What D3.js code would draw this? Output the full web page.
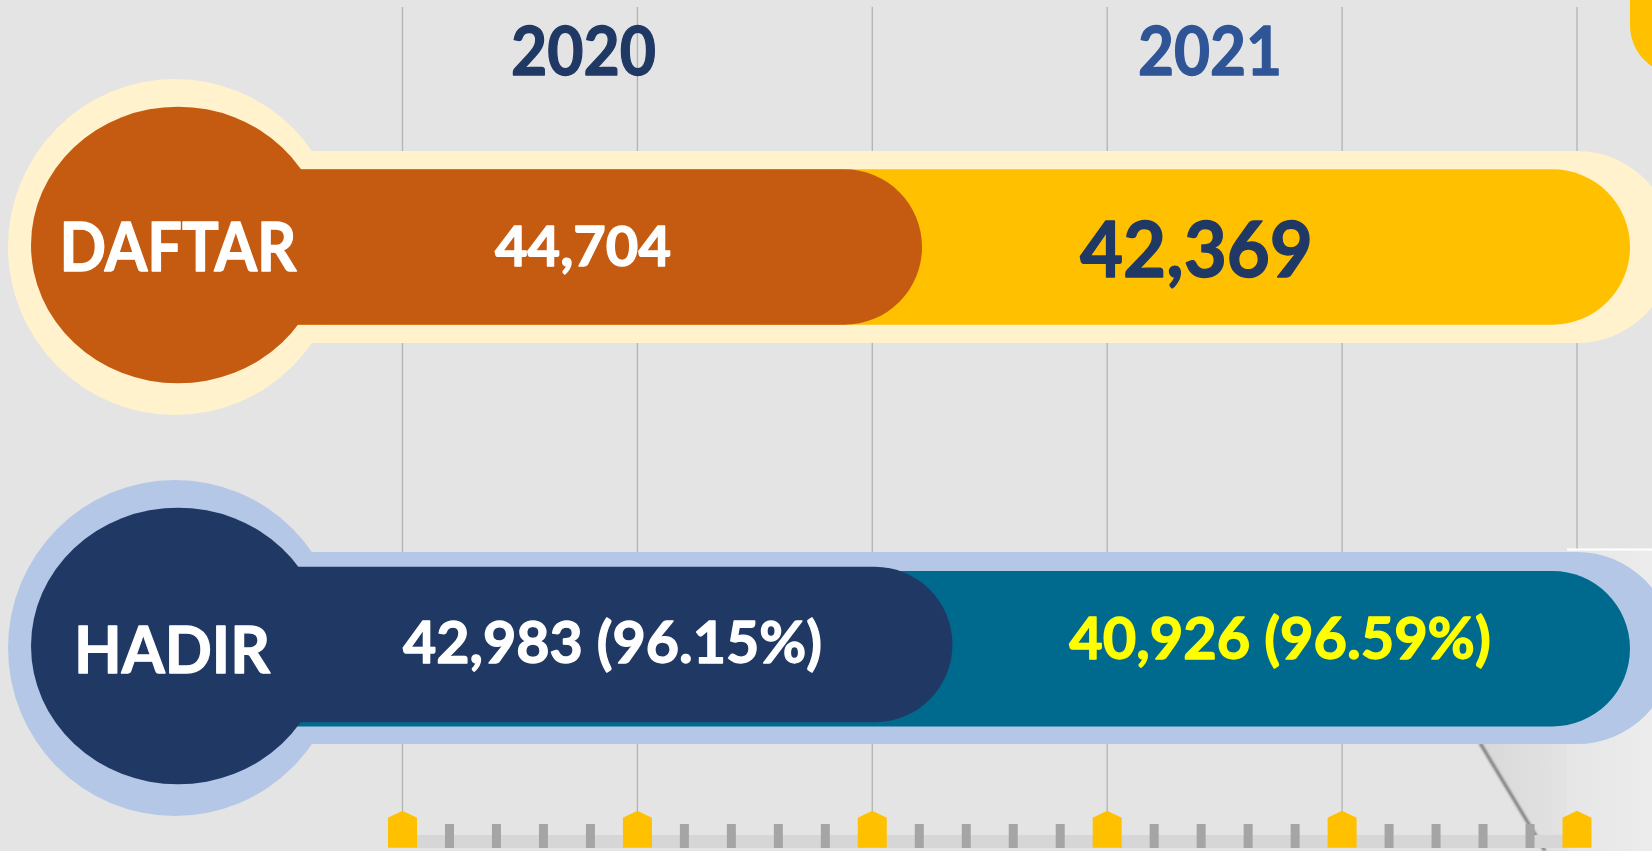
<!DOCTYPE html>
<html lang="en">
<head>
<meta charset="UTF-8">
<title>DAFTAR / HADIR 2020 - 2021</title>
<script src="https://d3js.org/d3.v7.min.js"></script>
<style>
  body { margin: 0; background: #e4e4e4; overflow: hidden; }
  svg { display: block; }
  text { font-family: Lato, 'Open Sans', sans-serif; font-weight: 700; paint-order: stroke; stroke-width: 1.3px; stroke-linejoin: round; }
</style>
</head>
<body>
<svg id="chart" width="1652" height="851"></svg>
<script>
// ---- data ----
const years = ["2020", "2021"];
const rowLabels = ["DAFTAR", "HADIR"];
const daftar = [44704, 42369];   // registered per year
const hadir = [42983, 40926];    // attended per year
const timelineMajor = [0, 1, 2, 3, 4, 5];

// ---- layout ----
const W = 1652, H = 851;
const rowCenter = [247, 648];
const rowStart = [175, 241];      // scale origin, hidden under the bulb
const barEnd = 1630;
const barH = 155.5, haloH = 192;
const segDy = [[0, 0], [-3.5, 0.7]];

const rowStyle = [
  { halo: "#fff2cc", seg: ["#c55a11", "#ffc000"], text: ["#ffffff", "#203864"] },
  { halo: "#b4c7e7", seg: ["#203864", "#006a8e"], text: ["#ffffff", "#ffff00"] }
];
const yearColor = ["#203864", "#2f5597"];

// label boxes: centre x, baseline, width, font size
const yearPos = [{ cx: 583.5, y: 75, w: 145, fs: 67 }, { cx: 1210, y: 75, w: 144, fs: 67 }];
const rowLabelPos = [{ cx: 178, y: 270.7, w: 237, fs: 66.5 }, { cx: 172, y: 673.3, w: 196, fs: 65 }];
const valuePos = [
  [{ cx: 583, y: 265.7, w: 176, fs: 54.5 }, { cx: 1196.5, y: 276.7, w: 233, fs: 77 }],
  [{ cx: 612.5, y: 662.7, w: 419, fs: 57 }, { cx: 1280, y: 659.3, w: 421.5, fs: 57 }]
];

const svg = d3.select("#chart");
const fmt = d3.format(",");
const pct = d3.format(".2%");

const rows = rowLabels.map((label, i) => ({
  label: label,
  values: i === 0 ? daftar : hadir
}));

function capsule(x0, x1, y0, h) {
  const r = h / 2;
  return `M${x0},${y0} H${x1 - r} A${r},${r} 0 0 1 ${x1 - r},${y0 + h} H${x0} Z`;
}

// ---- background gridlines + timeline ----
const tl = d3.scaleLinear().domain([0, 5]).range([402.5, 1577]);
const minor = d3.range(0, 25).map(i => i / 5).filter(v => v % 1 !== 0);

svg.append("g").selectAll("line").data(timelineMajor).join("line")
  .attr("x1", d => tl(d)).attr("x2", d => tl(d))
  .attr("y1", 7).attr("y2", 811)
  .attr("stroke", "#b3b3b3").attr("stroke-width", 1.3);

// page-curl decoration bottom right
const defs = svg.append("defs");
const g1 = defs.append("linearGradient").attr("id", "panelGrad");
g1.append("stop").attr("offset", "0%").attr("stop-color", "#e6e6e6");
g1.append("stop").attr("offset", "100%").attr("stop-color", "#ececec");
const g2 = defs.append("linearGradient").attr("id", "wedgeGrad");
g2.append("stop").attr("offset", "0%").attr("stop-color", "#d8d8d8");
g2.append("stop").attr("offset", "100%").attr("stop-color", "#e3e3e3");
defs.append("filter").attr("id", "soft").append("feGaussianBlur").attr("stdDeviation", 1);

svg.append("rect").attr("x", 1567).attr("y", 549).attr("width", W - 1567).attr("height", H - 549)
  .attr("fill", "url(#panelGrad)");
svg.append("line").attr("x1", 1567).attr("x2", W).attr("y1", 549.5).attr("y2", 549.5)
  .attr("stroke", "#ffffff").attr("stroke-width", 2);
svg.append("path").attr("d", "M1480,743 L1567,743 L1567,851 L1545,851 Z").attr("fill", "url(#wedgeGrad)");
svg.append("line").attr("x1", 1480).attr("y1", 743).attr("x2", 1545).attr("y2", 851)
  .attr("stroke", "#7a7a7a").attr("stroke-width", 3).attr("filter", "url(#soft)");

svg.append("rect").attr("x", tl(0)).attr("y", 835).attr("width", tl(5) - tl(0)).attr("height", 13)
  .attr("fill", "#d6d6d6");
svg.append("g").selectAll("rect").data(minor).join("rect")
  .attr("x", d => tl(d) - 4.5).attr("y", 824).attr("width", 9).attr("height", 24)
  .attr("fill", "#a5a5a5");
svg.append("g").selectAll("path").data(timelineMajor).join("path")
  .attr("transform", d => `translate(${tl(d)},810.7)`)
  .attr("d", "M-14.5,7 L0,0 L14.5,7 V37 H-14.5 Z")
  .attr("fill", "#ffc000");

// yellow tab top right
svg.append("rect").attr("x", 1630).attr("y", -60).attr("width", 120).attr("height", 135)
  .attr("rx", 50).attr("fill", "#ffc000");

// ---- year headers ----
svg.append("g").selectAll("text").data(years).join("text")
  .attr("x", (d, i) => yearPos[i].cx).attr("y", (d, i) => yearPos[i].y)
  .attr("text-anchor", "middle")
  .attr("font-size", (d, i) => yearPos[i].fs)
  .attr("textLength", (d, i) => yearPos[i].w).attr("lengthAdjust", "spacingAndGlyphs")
  .attr("fill", (d, i) => yearColor[i]).attr("stroke", (d, i) => yearColor[i])
  .text(d => d);

// ---- thermometer rows ----
rows.forEach((row, i) => {
  const cy = rowCenter[i];
  const st = rowStyle[i];
  const total = d3.sum(row.values);
  const x = d3.scaleLinear().domain([0, total]).range([rowStart[i], barEnd]);
  const g = svg.append("g");

  // halo
  g.append("path").attr("d", capsule(x(0), barEnd + 43, cy - haloH / 2, haloH)).attr("fill", st.halo);
  g.append("ellipse").attr("cx", 175).attr("cy", cy).attr("rx", 167).attr("ry", 168).attr("fill", st.halo);

  // stacked segments: each drawn from the origin, later year underneath
  const segs = row.values.map((v, j) => ({
    j: j, v: v,
    end: d3.sum(row.values.slice(0, j + 1))
  }));
  g.selectAll("path.seg").data(segs.slice().reverse()).join("path")
    .attr("class", "seg")
    .attr("d", d => capsule(x(0), x(d.end), cy - barH / 2 + segDy[i][d.j], barH))
    .attr("fill", d => st.seg[d.j]);

  // bulb
  g.append("ellipse").attr("cx", 178).attr("cy", cy - 2).attr("rx", 147).attr("ry", 138.3)
    .attr("fill", st.seg[0]);

  g.append("text")
    .attr("x", rowLabelPos[i].cx).attr("y", rowLabelPos[i].y)
    .attr("text-anchor", "middle").attr("font-size", rowLabelPos[i].fs)
    .attr("textLength", rowLabelPos[i].w).attr("lengthAdjust", "spacingAndGlyphs")
    .attr("fill", "#ffffff").attr("stroke", "#ffffff")
    .text(row.label);

  g.selectAll("text.val").data(segs).join("text")
    .attr("class", "val")
    .attr("x", d => valuePos[i][d.j].cx).attr("y", d => valuePos[i][d.j].y)
    .attr("text-anchor", "middle").attr("font-size", d => valuePos[i][d.j].fs)
    .attr("textLength", d => valuePos[i][d.j].w).attr("lengthAdjust", "spacingAndGlyphs")
    .attr("fill", d => st.text[d.j]).attr("stroke", d => st.text[d.j])
    .text(d => i === 0 ? fmt(d.v) : `${fmt(d.v)} (${pct(d.v / daftar[d.j])})`);
});
</script>
</body>
</html>
